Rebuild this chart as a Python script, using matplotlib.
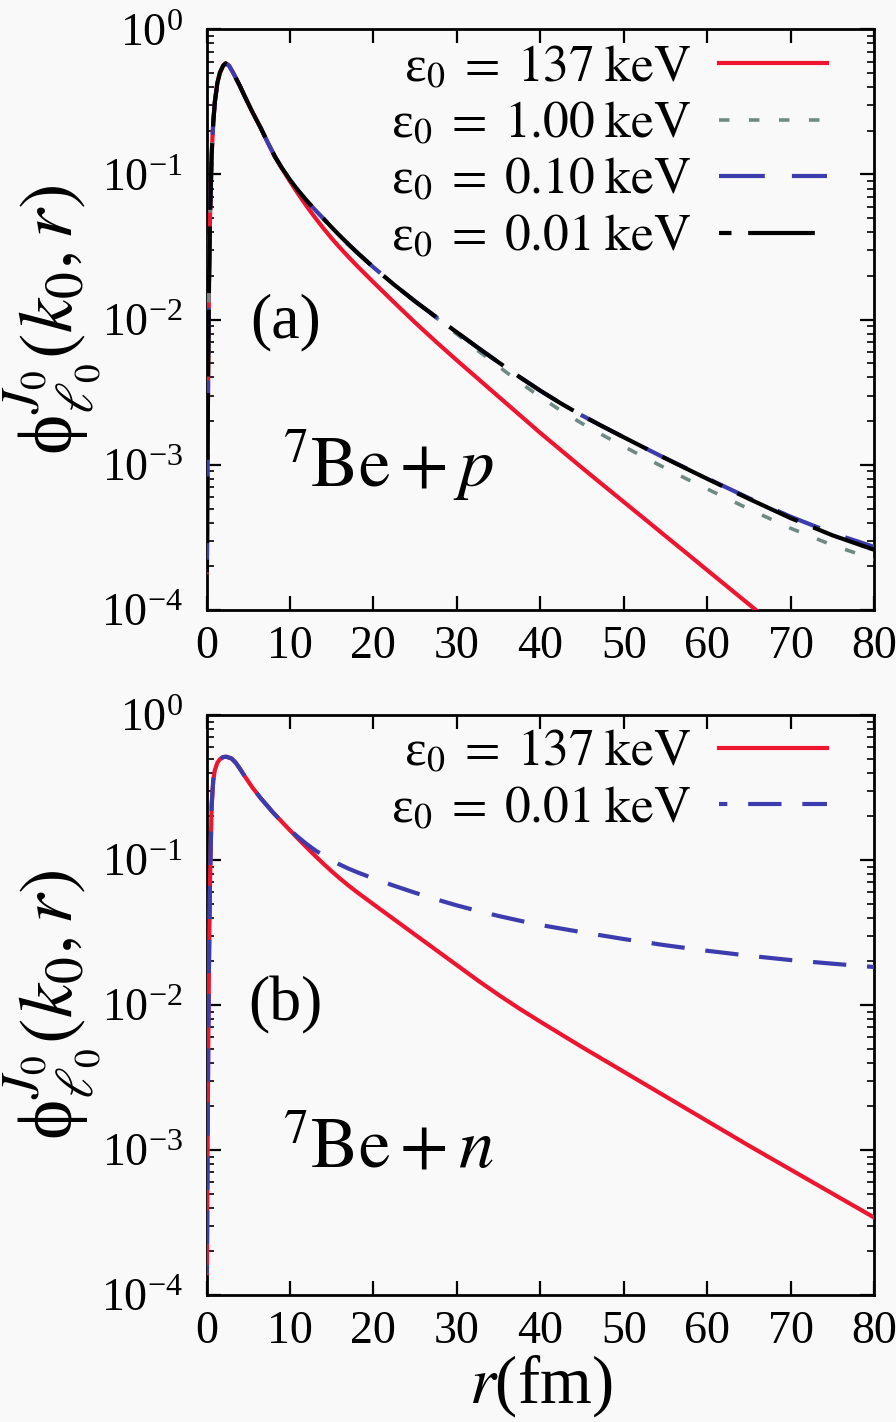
import numpy as np
import matplotlib
matplotlib.use("Agg")
import matplotlib.pyplot as plt

plt.rcParams['font.family'] = ['Liberation Serif', 'DejaVu Serif']
plt.rcParams['mathtext.fontset'] = 'stix'

# ---------------- data (log10 of phi) ----------------
# panel (a): 7Be + p
r_a = [0.05, 0.1, 0.15, 0.2, 0.3, 0.42, 0.62, 0.81, 1.0, 1.3, 1.6, 2.0, 2.3, 2.7,
       3.2, 4.0, 4.6, 5.5, 6.5, 7.3, 8.2,
       9, 10, 11, 12, 13, 14, 15, 16, 17, 18, 20, 22.5, 25, 27.5, 30, 32.5, 35,
       37.5, 40, 42.5, 45, 47.5, 50, 52.5, 55, 57.5, 60, 65, 70, 75, 80]
common_a = [-3.74, -3.2, -2.75, -2.35, -1.75, -1.3, -0.86, -0.64, -0.5, -0.37, -0.30,
            -0.25, -0.235, -0.25, -0.30, -0.39, -0.464, -0.57, -0.68, -0.775, -0.877]
a_137 = common_a + [-0.955, -1.047, -1.135, -1.218, -1.296, -1.37, -1.44, -1.505, -1.567,
                    -1.627, -1.742, -1.882, -2.02, -2.152, -2.28, -2.405, -2.53, -2.655,
                    -2.78, -2.90, -3.02, -3.138, -3.255, -3.372, -3.49, -3.607, -3.725,
                    -3.96, -4.195, -4.43, -4.66]
a_001 = common_a + [-0.952, -1.036, -1.112, -1.18, -1.243, -1.303, -1.364, -1.423, -1.48,
                    -1.535, -1.639, -1.76, -1.874, -1.981, -2.087, -2.192, -2.294, -2.394,
                    -2.489, -2.578, -2.66, -2.736, -2.81, -2.883, -2.955, -3.026, -3.096,
                    -3.234, -3.367, -3.485, -3.585]
a_010 = common_a + [-0.952, -1.036, -1.112, -1.18, -1.243, -1.303, -1.364, -1.423, -1.48,
                    -1.535, -1.639, -1.76, -1.874, -1.981, -2.087, -2.192, -2.294, -2.394,
                    -2.489, -2.578, -2.66, -2.736, -2.81, -2.883, -2.955, -3.024, -3.093,
                    -3.229, -3.357, -3.47, -3.565]
a_100 = common_a + [-0.952, -1.036, -1.112, -1.18, -1.243, -1.303, -1.364, -1.423, -1.48,
                    -1.535, -1.639, -1.76, -1.874, -1.986, -2.099, -2.212, -2.322, -2.43,
                    -2.532, -2.628, -2.715, -2.796, -2.873, -2.949, -3.023, -3.096, -3.166,
                    -3.304, -3.437, -3.553, -3.65]

# panel (b): 7Be + n
r_b = [0.05, 0.1, 0.15, 0.2, 0.3, 0.42, 0.62, 0.81, 1.0, 1.3, 1.6, 2.0, 2.4, 3.0,
       3.5, 4.0, 4.6, 5.5, 6.5, 8.0, 9.8,
       11, 12, 13, 14, 15, 16, 17, 18, 20, 22.5, 25, 27.5, 30, 32.5, 35, 37.5, 40,
       45, 50, 55, 60, 65, 70, 75, 80]
common_b = [-3.85, -3.3, -2.8, -2.35, -1.7, -1.15, -0.62, -0.45, -0.38, -0.33, -0.305,
            -0.29, -0.288, -0.30, -0.329, -0.37, -0.424, -0.50, -0.574, -0.674, -0.783]
b_137 = common_b + [-0.855, -0.913, -0.97, -1.025, -1.078, -1.128, -1.175, -1.22, -1.305,
                    -1.41, -1.515, -1.62, -1.725, -1.83, -1.93, -2.025, -2.115, -2.29,
                    -2.46, -2.63, -2.80, -2.97, -3.135, -3.30, -3.465]
b_001 = common_b + [-0.843, -0.89, -0.932, -0.969, -1.002, -1.032, -1.059, -1.083, -1.127,
                    -1.178, -1.226, -1.271, -1.313, -1.351, -1.386, -1.418, -1.448, -1.498,
                    -1.545, -1.588, -1.626, -1.66, -1.69, -1.715, -1.738]

labels_a = [r'ε$_0\;=\;137\;\mathrm{keV}$', r'ε$_0\;=\;1.00\;\mathrm{keV}$',
            r'ε$_0\;=\;0.10\;\mathrm{keV}$', r'ε$_0\;=\;0.01\;\mathrm{keV}$']
labels_b = [r'ε$_0\;=\;137\;\mathrm{keV}$', r'ε$_0\;=\;0.01\;\mathrm{keV}$']
xticks = [0, 10, 20, 30, 40, 50, 60, 70, 80]

RED = '#ee1530'
GRAY = '#6f8a84'
BLUE = '#3c3cae'
BLACK = '#000000'
BG = '#f9f9f9'

fig = plt.figure(figsize=(8.96, 14.22), dpi=100, facecolor=BG)
W, H = 896.0, 1422.0
x0, x1 = 206.5, 874.0
ax1 = fig.add_axes([x0 / W, 1 - 610 / H, (x1 - x0) / W, (610 - 29.3) / H])
ax2 = fig.add_axes([x0 / W, 1 - 1295 / H, (x1 - x0) / W, (1295 - 715) / H])

def p10(v):
    return 10.0 ** np.asarray(v)

lw = 3.0
ax1.plot(r_a, p10(a_137), color=RED, lw=lw, label=labels_a[0], zorder=3)
ax1.plot(r_a, p10(a_100), color=GRAY, lw=2.6, ls=(0, (2.9, 5.4)), label=labels_a[1], zorder=4)
ax1.plot(r_a, p10(a_010), color=BLUE, lw=lw, ls=(0, (11, 6.5)), label=labels_a[2], zorder=5)
ax1.plot(r_a, p10(a_001), color=BLACK, lw=lw, ls=(13, (16, 4)), label=labels_a[3], zorder=6)

ax2.plot(r_b, p10(b_137), color=RED, lw=lw, label=labels_b[0], zorder=3)
ax2.plot(r_b, p10(b_001), color=BLUE, lw=lw, ls=(6, (8, 5)), label=labels_b[1], zorder=4)

FS = 33
for ax in (ax1, ax2):
    ax.set_facecolor(BG)
    ax.set_yscale('log')
    ax.set_xlim(0, 80)
    ax.set_ylim(1e-4, 1.0)
    ax.set_xticks(xticks)
    ax.set_xticklabels([str(t) for t in xticks])
    ax.tick_params(axis='both', which='major', direction='in', length=10, width=1.6,
                   top=True, right=True, labelsize=FS, pad=11)
    ax.tick_params(axis='y', which='major', pad=17)
    ax.tick_params(axis='y', which='minor', direction='in', length=5, width=1.2,
                   left=True, right=True)
    ax.tick_params(axis='x', which='minor', bottom=False, top=False)
    for s in ax.spines.values():
        s.set_linewidth(2.0)
    ax.set_ylabel('ϕ' + r'$^{J_0}_{\ell_0}(k_0,r)$', fontsize=55, labelpad=-2)

leg_kw = dict(loc='upper right', frameon=False, markerfirst=False, fontsize=37,
              handlelength=2.1, handletextpad=0.55, labelspacing=0.18,
              borderpad=0.0, borderaxespad=0.0)
ax1.legend(bbox_to_anchor=(0.93, 0.973), **leg_kw)
ax2.legend(bbox_to_anchor=(0.93, 0.975), **leg_kw)

ax1.text(0.118, 0.496, '(a)', transform=ax1.transAxes, ha='center', va='center', fontsize=46)
ax1.text(0.113, 0.25, r'$^{7}\mathrm{Be}+p$', transform=ax1.transAxes, ha='left', va='center', fontsize=51)
ax2.text(0.118, 0.5, '(b)', transform=ax2.transAxes, ha='center', va='center', fontsize=46)
ax2.text(0.113, 0.25, r'$^{7}\mathrm{Be}+n$', transform=ax2.transAxes, ha='left', va='center', fontsize=51)

ax2.set_xlabel(r'$r$(fm)', fontsize=48, labelpad=0)

fig.savefig('out.png', dpi=100, facecolor=BG)
